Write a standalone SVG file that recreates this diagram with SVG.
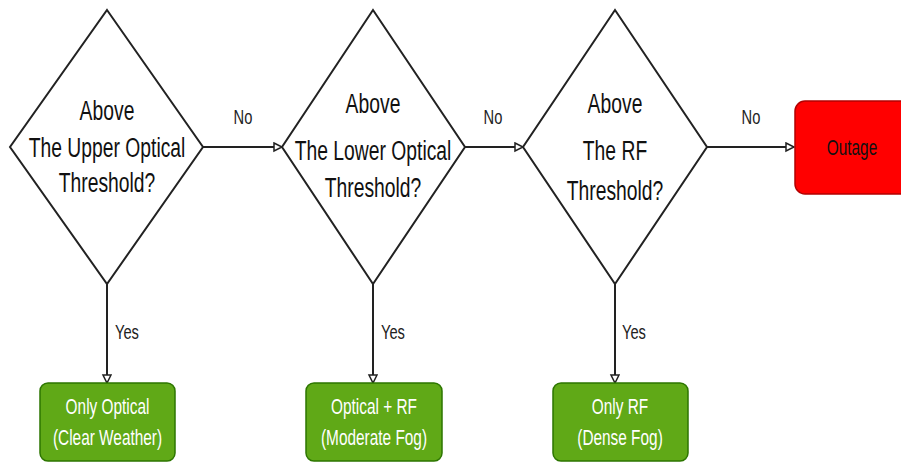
<svg xmlns="http://www.w3.org/2000/svg" width="901" height="463" viewBox="0 0 901 463">
<defs>
<style>
.dia{fill:#ffffff;stroke:#222222;stroke-width:2}
.edge{fill:none;stroke:#222222;stroke-width:2}
.green{fill:#60a917;stroke:#2d7600;stroke-width:1.5}
.red{fill:#ff0000;stroke:#b20000;stroke-width:1.5}
text{font-family:"Liberation Sans",Arial,sans-serif;text-anchor:middle}
.t{font-size:28px;fill:#111111}
.lbl{font-size:21px;fill:#222222}
.lbl2{font-size:21px;fill:#222222;text-anchor:start}
.w{font-size:22px;fill:#ffffff}
.k{font-size:22px;fill:#111111}
</style>
<marker id="arr" markerWidth="12" markerHeight="12" refX="9" refY="5" orient="auto" markerUnits="userSpaceOnUse">
<path d="M1,1 L9,5 L1,9 Z" fill="#ffffff" stroke="#222222" stroke-width="1.5"/>
</marker>
</defs>
<rect width="901" height="463" fill="#ffffff"/>

<g id="edges">
<line class="edge" x1="203" y1="147" x2="282" y2="147" marker-end="url(#arr)"/>
<line class="edge" x1="465" y1="147" x2="523" y2="147" marker-end="url(#arr)"/>
<line class="edge" x1="707" y1="147" x2="794" y2="147" marker-end="url(#arr)"/>
<line class="edge" x1="107" y1="284" x2="107" y2="383" marker-end="url(#arr)"/>
<line class="edge" x1="373" y1="284" x2="373" y2="383" marker-end="url(#arr)"/>
<line class="edge" x1="615" y1="284" x2="615" y2="383" marker-end="url(#arr)"/>
<text class="lbl" transform="translate(243,124) scale(0.7,1)">No</text>
<text class="lbl" transform="translate(493,124) scale(0.7,1)">No</text>
<text class="lbl" transform="translate(751,124) scale(0.7,1)">No</text>
<text class="lbl2" transform="translate(115,339) scale(0.7,1)">Yes</text>
<text class="lbl2" transform="translate(381,339) scale(0.7,1)">Yes</text>
<text class="lbl2" transform="translate(622,339) scale(0.7,1)">Yes</text>
</g>

<g id="d1">
<polygon class="dia" points="107,10 203,147 107,284 10,147"/>
<text class="t" transform="translate(107,120) scale(0.69,1)">Above</text>
<text class="t" transform="translate(107,157) scale(0.69,1)">The Upper Optical</text>
<text class="t" transform="translate(107,192) scale(0.69,1)">Threshold?</text>
</g>

<g id="d2">
<polygon class="dia" points="373,10 465,147 373,284 282,147"/>
<text class="t" transform="translate(373,113) scale(0.69,1)">Above</text>
<text class="t" transform="translate(373,160) scale(0.69,1)">The Lower Optical</text>
<text class="t" transform="translate(373,197) scale(0.69,1)">Threshold?</text>
</g>

<g id="d3">
<polygon class="dia" points="615,10 707,147 615,284 523,147"/>
<text class="t" transform="translate(615,113) scale(0.69,1)">Above</text>
<text class="t" transform="translate(615,160) scale(0.69,1)">The RF</text>
<text class="t" transform="translate(615,200) scale(0.69,1)">Threshold?</text>
</g>

<g id="outage">
<rect class="red" x="795" y="101" width="116" height="93" rx="10" ry="10"/>
<text class="k" transform="translate(852,155) scale(0.7,1)">Outage</text>
</g>

<g id="b1">
<rect class="green" x="40" y="383" width="135" height="78" rx="8" ry="8"/>
<text class="w" transform="translate(107.5,414) scale(0.7,1)">Only Optical</text>
<text class="w" transform="translate(107.5,445) scale(0.7,1)">(Clear Weather)</text>
</g>

<g id="b2">
<rect class="green" x="306" y="383" width="136" height="78" rx="8" ry="8"/>
<text class="w" transform="translate(374,414) scale(0.7,1)">Optical + RF</text>
<text class="w" transform="translate(374,445) scale(0.7,1)">(Moderate Fog)</text>
</g>

<g id="b3">
<rect class="green" x="553" y="383" width="135" height="78" rx="8" ry="8"/>
<text class="w" transform="translate(620,414) scale(0.7,1)">Only RF</text>
<text class="w" transform="translate(620,445) scale(0.7,1)">(Dense Fog)</text>
</g>
</svg>
